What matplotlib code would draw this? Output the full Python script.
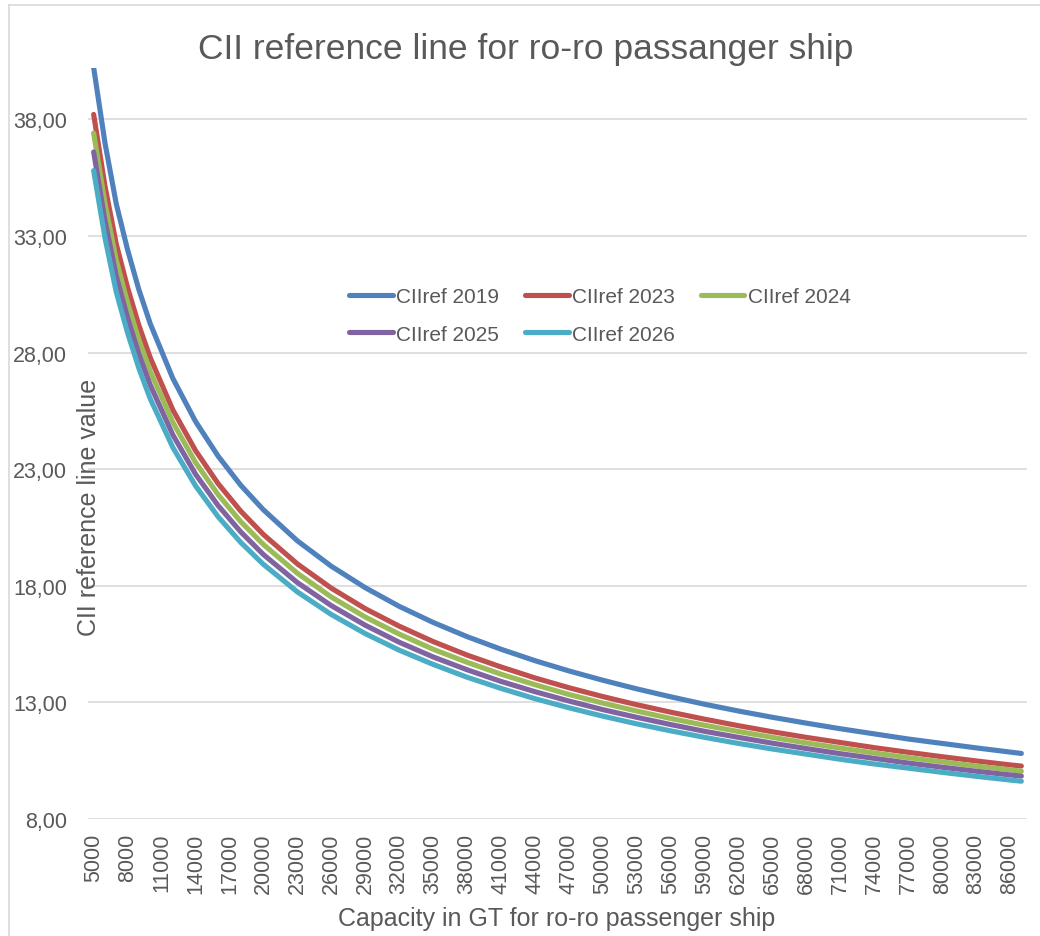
import matplotlib
matplotlib.use("Agg")
import matplotlib.pyplot as plt
from matplotlib.lines import Line2D
from matplotlib.ticker import FuncFormatter

plt.rcParams['font.family'] = ['Liberation Sans', 'DejaVu Sans']

# capacity in GT
gt = [5000, 6000, 7000, 8000, 9000, 10000, 12000, 14000, 16000, 18000, 20000,
      23000, 26000, 29000, 32000, 35000, 38000, 41000, 44000, 47000, 50000,
      53000, 56000, 59000, 62000, 65000, 68000, 71000, 74000, 77000, 80000,
      83000, 86000, 87000]

cii_2019 = [40.22, 36.99, 34.37, 32.40, 30.69, 29.24, 26.89, 25.05, 23.56, 22.31, 21.26,
            19.93, 18.84, 17.92, 17.12, 16.43, 15.82, 15.28, 14.79, 14.35, 13.95,
            13.58, 13.24, 12.92, 12.63, 12.36, 12.11, 11.87, 11.65, 11.43, 11.24,
            11.05, 10.87, 10.81]
cii_2023 = [38.21, 35.14, 32.65, 30.78, 29.16, 27.78, 25.54, 23.80, 22.38, 21.20, 20.20,
            18.94, 17.90, 17.02, 16.27, 15.61, 15.03, 14.52, 14.05, 13.63, 13.25,
            12.90, 12.58, 12.28, 12.00, 11.74, 11.50, 11.28, 11.06, 10.86, 10.67,
            10.49, 10.32, 10.27]
cii_2024 = [37.41, 34.40, 31.96, 30.13, 28.54, 27.19, 25.01, 23.29, 21.91, 20.75, 19.77,
            18.54, 17.52, 16.66, 15.93, 15.28, 14.72, 14.21, 13.76, 13.34, 12.97,
            12.63, 12.31, 12.02, 11.75, 11.50, 11.26, 11.04, 10.83, 10.63, 10.45,
            10.27, 10.11, 10.05]
cii_2025 = [36.60, 33.66, 31.28, 29.49, 27.93, 26.61, 24.47, 22.79, 21.44, 20.31, 19.34,
            18.14, 17.15, 16.31, 15.58, 14.95, 14.40, 13.90, 13.46, 13.06, 12.69,
            12.36, 12.05, 11.76, 11.50, 11.25, 11.02, 10.80, 10.60, 10.40, 10.22,
            10.05, 9.89, 9.84]
cii_2026 = [35.80, 32.92, 30.59, 28.84, 27.32, 26.02, 23.93, 22.29, 20.96, 19.86, 18.92,
            17.74, 16.77, 15.95, 15.24, 14.63, 14.08, 13.60, 13.16, 12.77, 12.41,
            12.08, 11.78, 11.50, 11.24, 11.00, 10.78, 10.56, 10.36, 10.18, 10.00,
            9.83, 9.67, 9.62]

series_names = ['CIIref 2019', 'CIIref 2023', 'CIIref 2024', 'CIIref 2025', 'CIIref 2026']
series_colors = ['#4F81BD', '#C0504D', '#9BBB59', '#8064A2', '#4BACC6']

gt_ticks = list(range(5000, 86001, 3000))
y_ticks = [8, 13, 18, 23, 28, 33, 38]

txt = '#595959'
W, H = 1040, 937

fig = plt.figure(figsize=(W / 100, H / 100), dpi=100)
ax = fig.add_axes([88 / W, 1 - 820 / H, (1027 - 88) / W, (820 - 69) / H])

for vals, name, col in zip([cii_2019, cii_2023, cii_2024, cii_2025, cii_2026],
                           series_names, series_colors):
    ax.plot(gt, vals, color=col, lw=3.7, solid_capstyle='round',
            solid_joinstyle='round', label=name)

ax.set_xlim(4500, 87500)
ax.set_ylim(8, 40.2)
ax.set_xticks(gt_ticks)
ax.set_xticklabels([str(t) for t in gt_ticks], rotation=90)
ax.set_yticks(y_ticks)
ax.yaxis.set_major_formatter(FuncFormatter(lambda v, p: f"{v:.2f}".replace('.', ',')))
ax.tick_params(axis='both', length=0, labelsize=15.5, labelcolor=txt)
ax.tick_params(axis='y', pad=15)
ax.tick_params(axis='x', pad=10)
ax.grid(axis='y', color='#d9d9d9', lw=1.2)
ax.set_axisbelow(True)
for s in ax.spines.values():
    s.set_visible(False)

# legend filled row by row, 3 per row
handles = [Line2D([], [], color=c, lw=3.7, solid_capstyle='round') for c in series_colors]
order = [0, 3, 1, 4, 2]
fig.legend([handles[i] for i in order], [series_names[i] for i in order],
           loc='upper left', bbox_to_anchor=(349 / W, 1 - 288 / H), ncol=3,
           frameon=False, fontsize=15, handlelength=2.1, handletextpad=0.15,
           columnspacing=1.25, labelspacing=0.9, borderpad=0, borderaxespad=0,
           labelcolor=txt)

fig.text(526 / W, 1 - 59 / H, 'CII reference line for ro-ro passanger ship',
         ha='center', va='baseline', fontsize=25.5, color=txt)
fig.text(557 / W, 1 - 926 / H, 'Capacity in GT for ro-ro passenger ship',
         ha='center', va='baseline', fontsize=18, color=txt)
fig.text(89 / W, 1 - 507 / H, 'CII reference line value', rotation=90,
         ha='center', va='center', fontsize=18, color=txt)

# chart frame (left and top edges)
fig.add_artist(Line2D([8.5 / W, 8.5 / W], [0, 1 - 5.5 / H], color='#d9d9d9', lw=1.2))
fig.add_artist(Line2D([8.5 / W, 1], [1 - 5.5 / H, 1 - 5.5 / H], color='#d9d9d9', lw=1.2))

fig.savefig('out.png', dpi=100)
